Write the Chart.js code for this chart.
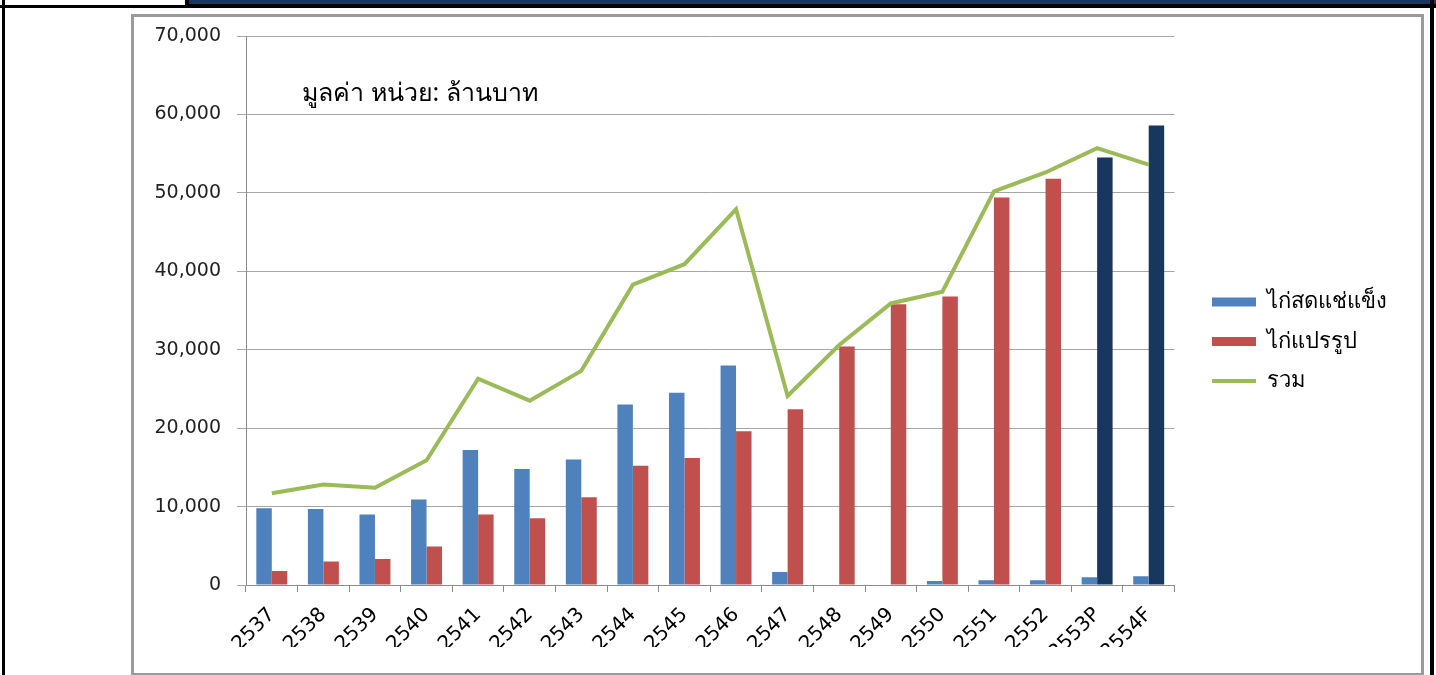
<!DOCTYPE html>
<html>
<head>
<meta charset="utf-8">
<script src="https://cdn.jsdelivr.net/npm/chart.js@4.4.1/dist/chart.umd.min.js"></script>
<style>
  html, body { margin: 0; padding: 0; background: #fff; }
  body { width: 1436px; height: 675px; position: relative; overflow: hidden; }
  #topLeft { position: absolute; left: 0; top: 0; width: 185px; height: 5px; border-bottom: 3px solid #000; border-right: 4px solid #000; }
  #topBar { position: absolute; left: 189px; top: 0; width: 1247px; height: 4px; background: #17375e; border-bottom: 4px solid #000; }
  #leftLine { position: absolute; left: 2px; top: 0; width: 3px; height: 675px; background: #000; }
  #rightLine { position: absolute; left: 1430px; top: 0; width: 4px; height: 675px; background: #000; }
  #chartBox { position: absolute; left: 131px; top: 14px; width: 1287px; height: 656px; border: 3px solid #9a9a9a; background: #fff; }
  #chartBox canvas { display: block; }
</style>
</head>
<body>
<div id="topLeft"></div>
<div id="topBar"></div>
<div id="leftLine"></div>
<div id="rightLine"></div>
<div id="chartBox"><canvas id="myChart" width="1287" height="656"></canvas></div>
<script>
// Data ---------------------------------------------------
const years = ['2537', '2538', '2539', '2540', '2541', '2542', '2543', '2544', '2545',
    '2546', '2547', '2548', '2549', '2550', '2551', '2552', '2553P', '2554F'];
const frozenChicken = [9800, 9700, 9000, 10900, 17200, 14800, 16000, 23000, 24500,
    28000, 1650, 0, 0, 500, 600, 600, 1000, 1100];
const processedChicken = [1800, 3000, 3300, 4900, 9000, 8500, 11200, 15200, 16200,
    19600, 22400, 30400, 35800, 36800, 49400, 51800, 54500, 58600];
const totalValue = [11700, 12800, 12400, 15900, 26300, 23500, 27300, 38300, 40900,
    47900, 24100, 30600, 35900, 37400, 50200, 52600, 55700, 53600];
const yTicks = [0, 10000, 20000, 30000, 40000, 50000, 60000, 70000];

const seriesNames = ['ไก่สดแช่แข็ง', 'ไก่แปรรูป', 'รวม'];
const note = 'มูลค่า หน่วย: ล้านบาท';

// forecast years are drawn dark navy
const processedColors = years.map(y => /[PF]$/.test(y) ? '#17375e' : '#c0504d');

const thaiFont = "Tahoma, 'Noto Sans', 'DejaVu Sans', sans-serif";
const numFont = "'DejaVu Sans', Tahoma, sans-serif";

//  note text inside the plot
const notePlugin = {
    id: 'note',
    afterDraw(chart) {
        const ctx = chart.ctx;
        const area = chart.chartArea;
        ctx.save();
        ctx.font = '25px ' + thaiFont;
        ctx.fillStyle = '#000';
        ctx.textBaseline = 'middle';
        ctx.fillText(note, area.left + 56, area.top + 58);
        ctx.restore();
    }
};

const data = {
    labels: years,
    datasets: [{
        type: 'bar',
        label: seriesNames[0],
        data: frozenChicken,
        backgroundColor: '#4f81bd',
        borderWidth: 0,
        pointStyle: 'rect',
        order: 1
    }, {
        type: 'bar',
        label: seriesNames[1],
        data: processedChicken,
        backgroundColor: processedColors,
        borderWidth: 0,
        pointStyle: 'rect',
        order: 1
    }, {
        type: 'line',
        label: seriesNames[2],
        data: totalValue,
        borderColor: '#9bbb59',
        backgroundColor: '#9bbb59',
        borderWidth: 4,
        pointRadius: 0,
        pointStyle: 'line',
        tension: 0,
        order: 0
    }]
};

const options = {
    responsive: false,
    animation: false,
    layout: { padding: { top: 19, right: 24, left: 0, bottom: 26 } },
    datasets: {
        bar: { categoryPercentage: 0.6, barPercentage: 1 }
    },
    plugins: {
        legend: {
            display: true,
            position: 'right',
            labels: {
                usePointStyle: true,
                pointStyleWidth: 44,
                boxHeight: 9,
                padding: 17.5,
                color: '#000',
                font: { size: 22, family: thaiFont },
                sort: (a, b) => a.datasetIndex - b.datasetIndex
            }
        },
        tooltip: { enabled: false }
    },
    scales: {
        x: {
            grid: { drawOnChartArea: false, tickLength: 7, color: '#8c8c8c' },
            border: { color: '#8c8c8c' },
            ticks: {
                color: '#000',
                minRotation: 45,
                maxRotation: 45,
                padding: 11,
                font: { size: 20, family: numFont }
            },
            afterFit: s => { s.height = 62; }
        },
        y: {
            min: 0,
            max: 70000,
            afterBuildTicks: s => { s.ticks = yTicks.map(v => ({ value: v })); },
            grid: { color: '#a6a6a6', tickLength: 9 },
            border: { color: '#8c8c8c' },
            ticks: {
                color: '#222',
                padding: 16,
                font: { size: 19, family: numFont },
                callback: v => v.toLocaleString('en-US')
            },
            afterFit: s => {
                s.width = 112;
                s.paddingTop = 11;
                s.paddingBottom = 11;
            }
        },
        gap: {
            position: 'right',
            display: true,
            grid: { display: false },
            border: { display: false },
            ticks: { display: false },
            afterFit: s => { s.width = 20; }
        }
    }
};

const config = {
    data,
    options,
    plugins: [notePlugin]
};

const myChart = new Chart(document.getElementById('myChart'), config);
</script>
</body>
</html>
